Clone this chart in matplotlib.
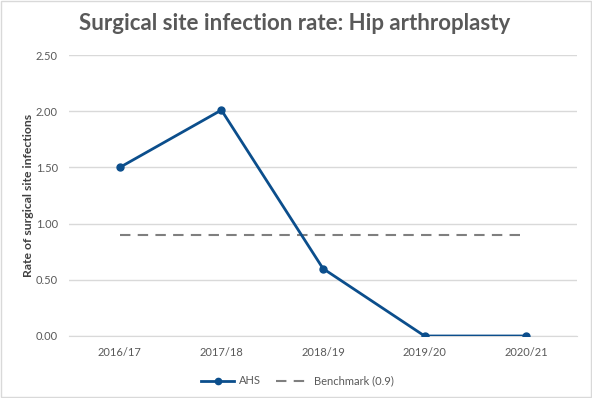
import numpy as np
import matplotlib.pyplot as plt
from matplotlib.patches import Rectangle

years = ["2016/17", "2017/18", "2018/19", "2019/20", "2020/21"]
ahs = [1.50, 2.01, 0.60, 0.00, 0.00]
benchmark = [0.9, 0.9, 0.9, 0.9, 0.9]

plt.rcParams['font.family'] = ['Lato', 'DejaVu Sans']

fig = plt.figure(figsize=(5.92, 3.98), dpi=100)
ax = fig.add_axes([0.1166, 0.1558, 0.858, 0.706])

x = np.arange(len(years))
ax.plot(x, ahs, color="#0B4E8C", lw=2, marker="o", ms=5, label="AHS", zorder=3)
ax.plot(x, benchmark, color="#7F7F7F", lw=1.5, ls=(0, (5, 3.5)), label="Benchmark (0.9)", zorder=2)

ax.set_xlim(-0.5, len(years) - 0.5)
ax.set_ylim(0, 2.5)
ax.set_yticks(np.arange(0, 2.51, 0.5))
ax.set_yticklabels([f"{v:.2f}" for v in np.arange(0, 2.51, 0.5)])
ax.set_xticks(x)
ax.set_xticklabels(years)
ax.tick_params(axis="both", length=0, labelsize=8, labelcolor="#595959", pad=8)
ax.grid(axis="y", color="#D9D9D9", lw=1)
ax.set_axisbelow(True)
for s in ["top", "right", "left"]:
    ax.spines[s].set_visible(False)
ax.spines["bottom"].set_color("#D9D9D9")

ax.set_ylabel("Rate of surgical site infections", fontsize=8.8, fontweight="bold", color="#404040", labelpad=1)

fig.text(0.498, 0.94, "Surgical site infection rate: Hip arthroplasty", ha="center", va="center",
         fontsize=16, fontweight="bold", color="#595959")

ax.legend(loc="upper center", bbox_to_anchor=(0.45, -0.105), ncol=2, frameon=False,
          fontsize=8, labelcolor="#595959", handlelength=3.0, handletextpad=0.4,
          columnspacing=1.4, markerscale=0.9)

fig.patches.append(Rectangle((0.002, 0.002), 0.996, 0.996, transform=fig.transFigure,
                             fill=False, edgecolor="#D9D9D9", lw=1))

fig.savefig("out.png", dpi=100)
